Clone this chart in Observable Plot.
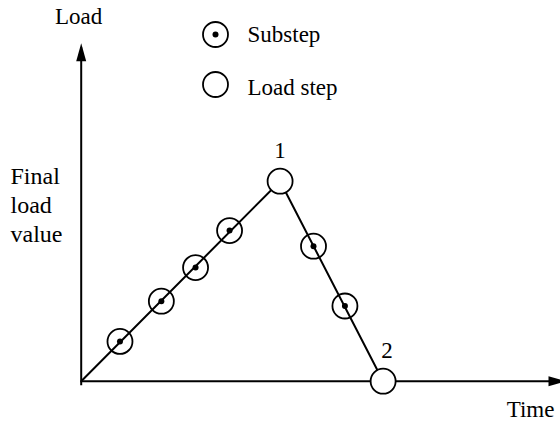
<!DOCTYPE html>
<html>
<head>
<meta charset="utf-8">
<script src="https://cdn.jsdelivr.net/npm/d3@7"></script>
<script src="https://cdn.jsdelivr.net/npm/@observablehq/plot@0.6"></script>
<style>
  html, body { margin: 0; padding: 0; background: #fff; }
  #chart svg { display: block; overflow: visible; }
  #chart svg text { font-family: "Liberation Serif", "DejaVu Serif", "Times New Roman", Times, serif !important; }
</style>
</head>
<body>
<div id="chart"></div>
<script>
// ---- data (time, load) ----
const pathTime = [0, 1, 1.518];
const pathLoad = [0, 1, 0];
const loadStepTime = [1, 1.518];
const loadStepLoad = [1, 0];
const loadStepLabels = ["1", "2"];
const substepTime = [0.195, 0.403, 0.575, 0.746, 1.168, 1.326];
const substepLoad = [0.199, 0.40, 0.568, 0.753, 0.675, 0.376];
const axisTimeMax = 2.44;
const axisLoadMax = 1.69;
const xLabel = "Time";
const yLabel = "Load";
const yValueLabel = "Final\nload\nvalue";
const legendLabels = ["Substep", "Load step"];

const path = pathTime.map((t, i) => ({t, v: pathLoad[i]}));
const loadSteps = loadStepTime.map((t, i) => ({t, v: loadStepLoad[i], label: loadStepLabels[i]}));
const substeps = substepTime.map((t, i) => ({t, v: substepLoad[i]}));

// filled arrowhead: tip at origin, pointing up
const arrowHead = {
  draw(context, size) {
    context.moveTo(0, 0);
    context.lineTo(5, 18);
    context.lineTo(-5, 18);
    context.closePath();
  }
};

const font = "Liberation Serif, DejaVu Serif, Times New Roman, serif";

const chart = Plot.plot({
  width: 560,
  height: 423,
  margin: 0,
  style: {fontFamily: font, color: "black", background: "white", overflow: "visible"},
  x: {domain: [0, axisTimeMax], range: [80.7, 566], axis: null},
  y: {domain: [0, axisLoadMax], range: [380.7, 42.7], axis: null},
  marks: [
    // axes
    Plot.link([{x1: 0, y1: 0, x2: axisTimeMax, y2: 0}], {x1: "x1", y1: "y1", x2: "x2", y2: "y2", stroke: "black", strokeWidth: 2}),
    Plot.link([{x1: 0, y1: 0, x2: 0, y2: axisLoadMax}], {x1: "x1", y1: "y1", x2: "x2", y2: "y2", stroke: "black", strokeWidth: 2, dy: 4}),
    Plot.dot([{x: 0, y: axisLoadMax}], {x: "x", y: "y", symbol: arrowHead, fill: "black", stroke: "none", r: 5}),
    Plot.dot([{x: axisTimeMax, y: 0}], {x: "x", y: "y", symbol: arrowHead, fill: "black", stroke: "none", r: 5, rotate: 90}),
    // load curve
    Plot.line(path, {x: "t", y: "v", stroke: "black", strokeWidth: 2}),
    // substeps
    Plot.dot(substeps, {x: "t", y: "v", r: 12.5, stroke: "black", strokeWidth: 1.8, fill: "none"}),
    Plot.dot(substeps, {x: "t", y: "v", r: 3, fill: "black", stroke: "none"}),
    // load steps
    Plot.dot(loadSteps, {x: "t", y: "v", r: 12.5, stroke: "black", strokeWidth: 1.8, fill: "white"}),
    Plot.text([loadSteps[0]], {x: "t", y: "v", text: "label", fontFamily: font, fontSize: 23, dy: -31, fill: "black"}),
    Plot.text([loadSteps[1]], {x: "t", y: "v", text: "label", fontFamily: font, fontSize: 23, dx: 4, dy: -31, fill: "black"}),
    // axis labels
    Plot.text([{x: 0, y: axisLoadMax}], {x: "x", y: "y", text: () => yLabel, fontFamily: font, fontSize: 23, dx: -2.7, dy: -27, fill: "black"}),
    Plot.text([{x: axisTimeMax, y: 0}], {x: "x", y: "y", text: () => xLabel, fontFamily: font, fontSize: 23, dx: -36, dy: 28.6, fill: "black"}),
    Plot.text([{x: 0, y: 1}], {x: "x", y: "y", text: () => yValueLabel, fontFamily: font, fontSize: 24, lineHeight: 1.2, lineAnchor: "top", textAnchor: "start", dx: -70.7, dy: -17.3, fill: "black"}),
    // legend
    Plot.dot([0], {frameAnchor: "top-left", dx: 215, dy: 34, r: 12.5, stroke: "black", strokeWidth: 1.8, fill: "none"}),
    Plot.dot([0], {frameAnchor: "top-left", dx: 215, dy: 34, r: 3, fill: "black", stroke: "none"}),
    Plot.text([legendLabels[0]], {frameAnchor: "top-left", text: d => d, dx: 247, dy: 34.4, lineAnchor: "middle", textAnchor: "start", fontFamily: font, fontSize: 23, fill: "black"}),
    Plot.dot([0], {frameAnchor: "top-left", dx: 215, dy: 84, r: 12.5, stroke: "black", strokeWidth: 1.8, fill: "white"}),
    Plot.text([legendLabels[1]], {frameAnchor: "top-left", text: d => d, dx: 247, dy: 87.6, lineAnchor: "middle", textAnchor: "start", fontFamily: font, fontSize: 23, fill: "black"})
  ]
});
document.getElementById("chart").appendChild(chart);
</script>
</body>
</html>
